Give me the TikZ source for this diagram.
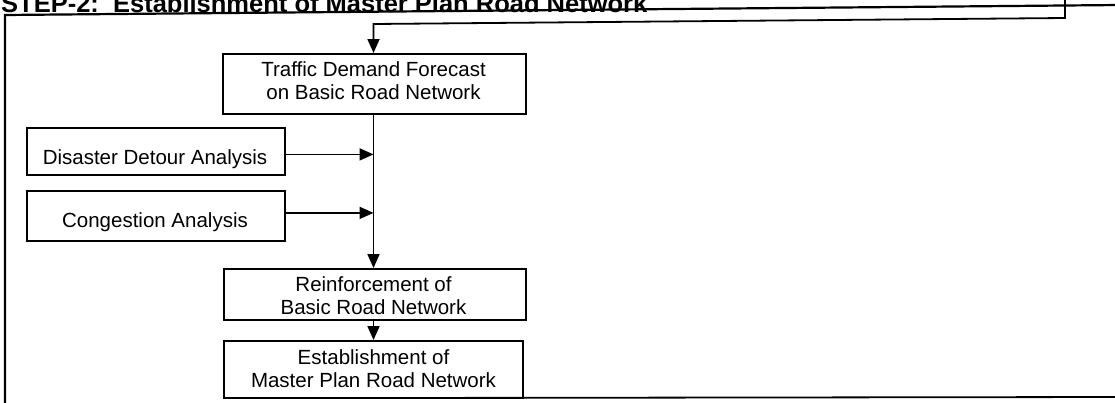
\documentclass[tikz,border=0pt]{standalone}
\usepackage{fontspec}
\setmainfont{Liberation Sans}
\usetikzlibrary{arrows.meta}
\begin{document}
\begin{tikzpicture}[x=1pt,y=-1pt,
  box/.style={draw=black,line width=1.8pt,inner sep=0pt,anchor=north west},
  txt/.style={font=\fontsize{20.5}{23}\selectfont,align=center,inner sep=0pt},
  arr/.style={line width=1.8pt,-{Triangle[length=14pt,width=12pt]}},
  ln/.style={line width=1.8pt},
  frame/.style={line width=2.2pt}]
\useasboundingbox (0,0) rectangle (1115,402);
% title
\node[anchor=base west,inner sep=0pt,font=\fontsize{25.5}{28}\selectfont\bfseries] (title) at (1,12.5) {STEP-2:\ \ Establishment of Master Plan Road Network};
% frame
\coordinate (ftl) at (5,15);
\coordinate (ftr) at (1120,5);
\coordinate (fbl) at (5,404);
\coordinate (fbs) at (385,398);
\coordinate (fbr) at (1120,397);
\draw[frame] (ftr) -- (ftl) -- (fbl);
\draw[ln] (fbs) -- (fbr);
% boxes
\node[box,minimum width=303pt,minimum height=60pt] (tr) at (222,53) {};
\node[txt] (trt) at (373.5,81) {Traffic Demand Forecast\\on Basic Road Network};
\node[box,minimum width=258pt,minimum height=47pt] (dis) at (26,127) {};
\node[txt] (dist) at (155,159) {Disaster Detour Analysis};
\node[box,minimum width=258pt,minimum height=50pt] (con) at (26,190) {};
\node[txt] (cont) at (155,222) {Congestion Analysis};
\node[box,minimum width=302pt,minimum height=51pt] (rei) at (223,268) {};
\node[txt] (reit) at (373.5,296) {Reinforcement of\\Basic Road Network};
\node[box,minimum width=299pt,minimum height=57pt] (est) at (223,340) {};
\node[txt] (estt) at (373.5,369) {Establishment of\\Master Plan Road Network};
% feedback line
\coordinate (fb0) at (1065,-5);
\coordinate (fb1) at (1065,18);
\coordinate (fb2) at (373.5,24);
\draw[arr] (fb0) -- (fb1) -- (fb2) -- (tr.north -| fb2);
% trunk
\draw[arr] (tr.south -| fb2) -- (rei.north -| fb2);
\draw[arr] ([yshift=-3pt]dis.east) -- ([yshift=-3pt]dis.east -| fb2);
\draw[arr] ([yshift=3pt]con.east) -- ([yshift=3pt]con.east -| fb2);
\draw[arr] (rei.south -| fb2) -- (est.north -| fb2);
\end{tikzpicture}
\end{document}
